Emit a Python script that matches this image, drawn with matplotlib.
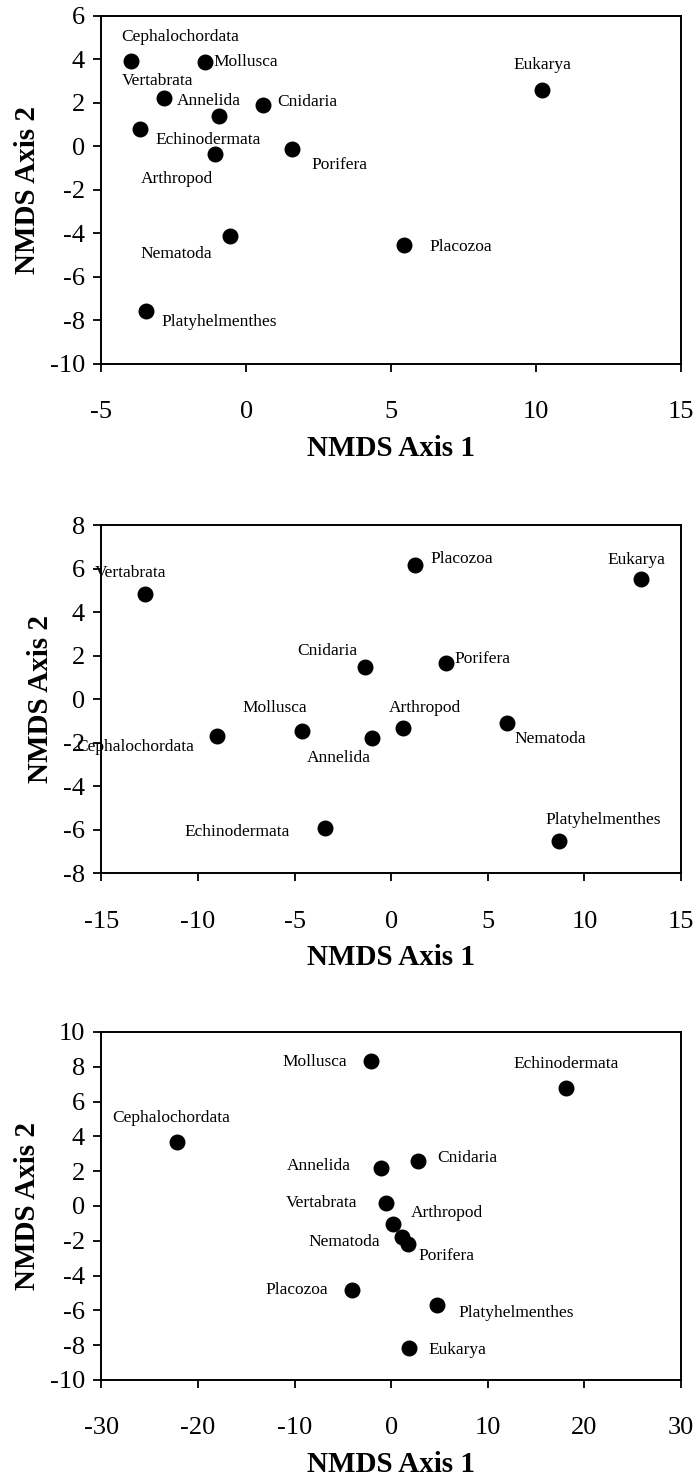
import matplotlib
matplotlib.use('Agg')
import matplotlib.pyplot as plt

# NMDS coordinates
taxa1 = ['Cephalochordata', 'Mollusca', 'Vertabrata', 'Annelida', 'Cnidaria', 'Echinodermata',
         'Arthropod', 'Porifera', 'Nematoda', 'Placozoa', 'Platyhelmenthes', 'Eukarya']
x1 = [-3.98, -1.44, -2.85, -0.93, 0.57, -3.68, -1.09, 1.59, -0.57, 5.43, -3.48, 10.21]
y1 = [3.93, 3.86, 2.24, 1.40, 1.89, 0.78, -0.37, -0.14, -4.10, -4.53, -7.56, 2.58]

taxa2 = ['Vertabrata', 'Placozoa', 'Eukarya', 'Cnidaria', 'Porifera', 'Mollusca',
         'Cephalochordata', 'Annelida', 'Arthropod', 'Nematoda', 'Echinodermata', 'Platyhelmenthes']
x2 = [-12.77, 1.22, 12.93, -1.34, 2.83, -4.63, -9.01, -0.99, 0.62, 5.99, -3.41, 8.71]
y2 = [4.81, 6.16, 5.52, 1.48, 1.68, -1.49, -1.68, -1.79, -1.34, -1.12, -5.92, -6.52]

taxa3 = ['Mollusca', 'Echinodermata', 'Cephalochordata', 'Cnidaria', 'Annelida', 'Vertabrata',
         'Arthropod', 'Nematoda', 'Porifera', 'Placozoa', 'Platyhelmenthes', 'Eukarya']
x3 = [-2.08, 18.09, -22.15, 2.77, -1.11, -0.51, 0.23, 1.15, 1.71, -4.06, 4.75, 1.80]
y3 = [8.31, 6.79, 3.69, 2.61, 2.17, 0.16, -1.05, -1.76, -2.18, -4.83, -5.69, -8.19]

# label placement: (dx px, dy px, ha)
off1 = {'Cephalochordata': (49, 24, 'center'), 'Mollusca': (9, 0, 'left'),
        'Vertabrata': (-6, 17, 'center'), 'Annelida': (-11, 15, 'center'),
        'Cnidaria': (14, 3, 'left'), 'Echinodermata': (68, -11, 'center'),
        'Arthropod': (-38, -25, 'center'), 'Porifera': (47, -16, 'center'),
        'Nematoda': (-54, -18, 'center'), 'Placozoa': (26, -2, 'left'),
        'Platyhelmenthes': (16, -11, 'left'), 'Eukarya': (0, 25, 'center')}
off2 = {'Vertabrata': (-50, 21, 'left'), 'Placozoa': (16, 6, 'left'),
        'Eukarya': (-5, 19, 'center'), 'Cnidaria': (-38, 16, 'center'),
        'Porifera': (9, 4, 'left'), 'Mollusca': (-27, 23, 'center'),
        'Cephalochordata': (-82, -11, 'center'), 'Annelida': (-33, -20, 'center'),
        'Arthropod': (22, 20, 'center'), 'Nematoda': (43, -16, 'center'),
        'Echinodermata': (-88, -4, 'center'), 'Platyhelmenthes': (44, 21, 'center')}
off3 = {'Mollusca': (-24, -1, 'right'), 'Echinodermata': (0, 24, 'center'),
        'Cephalochordata': (-6, 24, 'center'), 'Cnidaria': (19, 3, 'left'),
        'Annelida': (-30, 2, 'right'), 'Vertabrata': (-29, 0, 'right'),
        'Arthropod': (54, 11, 'center'), 'Nematoda': (-22, -5, 'right'),
        'Porifera': (39, -12, 'center'), 'Placozoa': (-24, 0, 'right'),
        'Platyhelmenthes': (21, -8, 'left'), 'Eukarya': (20, -2, 'left')}

plt.rcParams['font.family'] = 'Liberation Serif'
plt.rcParams['axes.unicode_minus'] = False

fig = plt.figure(figsize=(6.96, 14.77), dpi=100)

panels = [
    (taxa1, x1, y1, off1, (-5, 15), range(-5, 16, 5), (-10, 6), range(-10, 7, 2), 0.7536),
    (taxa2, x2, y2, off2, (-15, 15), range(-15, 16, 5), (-8, 8), range(-8, 9, 2), 0.4089),
    (taxa3, x3, y3, off3, (-30, 30), range(-30, 31, 10), (-10, 10), range(-10, 11, 2), 0.0657),
]

for taxa, xs, ys, off, xlim, xt, ylim, yt, bottom in panels:
    ax = fig.add_axes([0.1458, bottom, 0.8326, 0.2356])
    ax.scatter(xs, ys, s=110, color='black', zorder=3)
    for name, x, y in zip(taxa, xs, ys):
        dx, dy, ha = off[name]
        ax.annotate(name, (x, y), xytext=(dx, dy), textcoords='offset pixels',
                    ha=ha, va='center', fontsize=12.5)
    ax.set_xlim(xlim)
    ax.set_ylim(ylim)
    ax.set_xticks(list(xt))
    ax.set_yticks(list(yt))
    ax.tick_params(direction='out', length=6, width=1.3, labelsize=19, top=False, right=False)
    ax.tick_params(axis='x', pad=21)
    ax.tick_params(axis='y', pad=6)
    for sp in ax.spines.values():
        sp.set_linewidth(1.4)
    ax.set_xlabel('NMDS Axis 1', fontsize=21, fontweight='bold', labelpad=8)
    ax.set_ylabel('NMDS Axis 2', fontsize=21, fontweight='bold', labelpad=6)

fig.savefig('out.png', dpi=100)
